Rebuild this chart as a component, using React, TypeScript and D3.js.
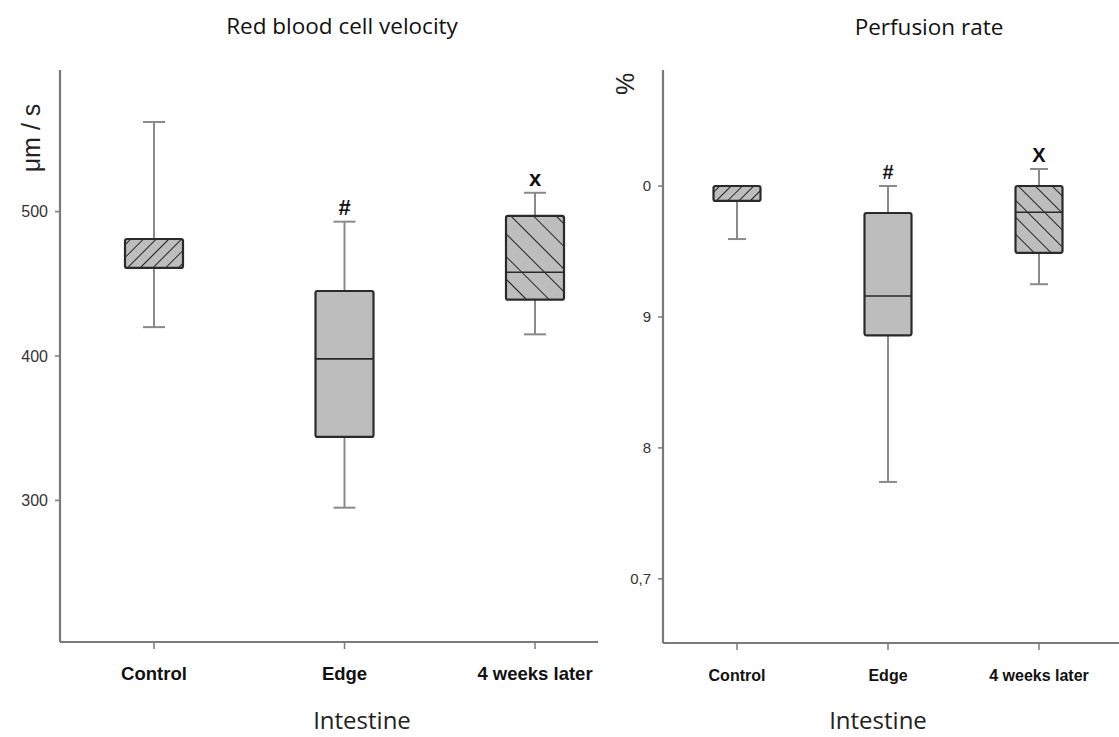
import React from "react";
import * as d3 from "d3";

const categories = ["Control", "Edge", "4 weeks later"];

// Red blood cell velocity (µm/s)
const velLow = [420, 295, 415];
const velQ1 = [461, 344, 439];
const velMedian = [480, 398, 458];
const velQ3 = [481, 445, 497];
const velHigh = [562, 493, 513];
const velMarks = ["", "#", "x"];
const velTicks = [300, 400, 500];
const velTickLabels = ["300", "400", "500"];

// Perfusion rate (%)
const perLow = [0.9595, 0.774, 0.925];
const perQ1 = [0.9886, 0.886, 0.949];
const perMedian = [1.0, 0.916, 0.98];
const perQ3 = [1.0, 0.9794, 1.0];
const perHigh = [1.0, 1.0, 1.013];
const perMarks = ["", "#", "X"];
const perTicks = [0.7, 0.8, 0.9, 1.0];
const perTickLabels = ["0,7", "8", "9", "0"];

// hatch type per category: none, "/", "\"
const hatchKinds = ["fwd", "none", "back"];

type PanelProps = {
  id: string;
  x0: number;
  x1: number;
  yTop: number;
  yBot: number;
  domain: [number, number];
  low: number[];
  q1: number[];
  med: number[];
  q3: number[];
  high: number[];
  marks: string[];
  ticks: number[];
  tickLabels: string[];
  catCenters: [number, number];
  boxW: number;
  capW: number;
  tickFont: React.CSSProperties;
  catFont: React.CSSProperties;
  markSize: number;
  hatchSpacing: [number, number];
  showMedian: boolean[];
};

function Panel(p: PanelProps) {
  const y = d3.scaleLinear().domain(p.domain).range([p.yBot, p.yTop]);
  const x = d3.scalePoint<string>().domain(categories).range(p.catCenters);
  const boxStroke = "#2a2a2a";
  const whisk = "#8a8a8a";
  const axisColor = "#7a7a7a";
  return (
    <g>
      <defs>
        <pattern id={p.id + "fwd"} patternUnits="userSpaceOnUse" width={p.hatchSpacing[0]} height={p.hatchSpacing[0]} patternTransform="rotate(45)">
          <rect width={p.hatchSpacing[0]} height={p.hatchSpacing[0]} fill="#bdbdbd" />
          <line x1={0} y1={0} x2={0} y2={p.hatchSpacing[0]} stroke="#222" strokeWidth={2} />
        </pattern>
        <pattern id={p.id + "back"} patternUnits="userSpaceOnUse" width={p.hatchSpacing[1]} height={p.hatchSpacing[1]} patternTransform="rotate(-45)">
          <rect width={p.hatchSpacing[1]} height={p.hatchSpacing[1]} fill="#bdbdbd" />
          <line x1={0} y1={0} x2={0} y2={p.hatchSpacing[1]} stroke="#222" strokeWidth={2} />
        </pattern>
      </defs>
      {/* axes */}
      <line x1={p.x0} x2={p.x0} y1={p.yTop} y2={p.yBot} stroke={axisColor} strokeWidth={2.2} />
      <line x1={p.x0} x2={p.x1} y1={p.yBot} y2={p.yBot} stroke={axisColor} strokeWidth={2.2} />
      {p.ticks.map((t, i) => (
        <g key={"t" + i}>
          <line x1={p.x0 - 5} x2={p.x0} y1={y(t)} y2={y(t)} stroke={axisColor} strokeWidth={1.5} />
          <text x={p.x0 - 12} y={y(t)} dy="0.35em" textAnchor="end" style={p.tickFont}>
            {p.tickLabels[i]}
          </text>
        </g>
      ))}
      {categories.map((c, i) => (
        <g key={"c" + i}>
          <line x1={x(c)} x2={x(c)} y1={p.yBot} y2={p.yBot + 7} stroke={axisColor} strokeWidth={1.5} />
          <text x={x(c)} y={p.yBot + 38} textAnchor="middle" style={p.catFont}>
            {c}
          </text>
        </g>
      ))}
      {categories.map((c, i) => {
        const cx = x(c) as number;
        const kind = hatchKinds[i];
        const fill = kind === "none" ? "#bdbdbd" : `url(#${p.id + kind})`;
        return (
          <g key={"b" + i}>
            <line x1={cx} x2={cx} y1={y(p.high[i])} y2={y(p.q3[i])} stroke={whisk} strokeWidth={2} />
            <line x1={cx} x2={cx} y1={y(p.q1[i])} y2={y(p.low[i])} stroke={whisk} strokeWidth={2} />
            <line x1={cx - p.capW / 2} x2={cx + p.capW / 2} y1={y(p.high[i])} y2={y(p.high[i])} stroke={whisk} strokeWidth={2} />
            <line x1={cx - p.capW / 2} x2={cx + p.capW / 2} y1={y(p.low[i])} y2={y(p.low[i])} stroke={whisk} strokeWidth={2} />
            <rect
              x={cx - p.boxW / 2}
              y={y(p.q3[i])}
              width={p.boxW}
              height={y(p.q1[i]) - y(p.q3[i])}
              fill={fill}
              stroke={boxStroke}
              strokeWidth={2.2}
              rx={2}
            />
            {p.showMedian[i] && (
              <line x1={cx - p.boxW / 2} x2={cx + p.boxW / 2} y1={y(p.med[i])} y2={y(p.med[i])} stroke={boxStroke} strokeWidth={1.6} />
            )}
            {p.marks[i] && (
              <text
                x={cx}
                y={y(p.high[i]) - 7}
                textAnchor="middle"
                style={{ fontFamily: "Liberation Sans, Arial, sans-serif", fontWeight: "bold", fontSize: p.markSize, fill: "#111" }}
              >
                {p.marks[i]}
              </text>
            )}
          </g>
        );
      })}
    </g>
  );
}

export default function App() {
  const titleStyle: React.CSSProperties = { fontFamily: "Open Sans, Lato, sans-serif", fontSize: 22.5, fill: "#111" };
  const xTitleStyle: React.CSSProperties = { fontFamily: "Open Sans, Lato, sans-serif", fontSize: 24, fill: "#222" };
  // domain derived from tick spacing
  const velDomain: [number, number] = [202, 598];
  const perDomain: [number, number] = [0.651, 1.0886];
  return (
    <svg width={1119} height={737} style={{ position: "absolute", left: 0, top: 0, background: "#fff" }}>
      <rect width={1119} height={737} fill="#fff" />
      <text x={342} y={34} textAnchor="middle" style={titleStyle}>Red blood cell velocity</text>
      <text x={929} y={35} textAnchor="middle" style={titleStyle}>Perfusion rate</text>
      <text transform="translate(40,138) rotate(-90)" textAnchor="middle" style={{ fontFamily: "Liberation Sans, Arial, sans-serif", fontSize: 25, fill: "#222" }}>
        μm / s
      </text>
      <text transform="translate(634,84) rotate(-90)" textAnchor="middle" style={{ fontFamily: "Liberation Sans, Arial, sans-serif", fontSize: 25, fill: "#222" }}>
        %
      </text>
      <Panel
        id="vel"
        x0={60}
        x1={598}
        yTop={70}
        yBot={642}
        domain={velDomain}
        low={velLow}
        q1={velQ1}
        med={velMedian}
        q3={velQ3}
        high={velHigh}
        marks={velMarks}
        ticks={velTicks}
        tickLabels={velTickLabels}
        catCenters={[154, 535]}
        boxW={58}
        capW={22}
        tickFont={{ fontFamily: "Liberation Sans, Arial, sans-serif", fontSize: 16, fill: "#333" }}
        catFont={{ fontFamily: "Liberation Sans, Arial, sans-serif", fontSize: 18.5, fontWeight: "bold", fill: "#111" }}
        markSize={22}
        hatchSpacing={[9, 16]}
        showMedian={[false, true, true]}
      />
      <Panel
        id="per"
        x0={663}
        x1={1119}
        yTop={70}
        yBot={643}
        domain={perDomain}
        low={perLow}
        q1={perQ1}
        med={perMedian}
        q3={perQ3}
        high={perHigh}
        marks={perMarks}
        ticks={perTicks}
        tickLabels={perTickLabels}
        catCenters={[737, 1039]}
        boxW={47}
        capW={18}
        tickFont={{ fontFamily: "Liberation Sans Narrow, Liberation Sans, Arial, sans-serif", fontSize: 15, fill: "#333" }}
        catFont={{ fontFamily: "Liberation Sans Narrow, Liberation Sans, Arial, sans-serif", fontSize: 16, fontWeight: "bold", fill: "#111" }}
        markSize={20}
        hatchSpacing={[8, 12]}
        showMedian={[false, true, true]}
      />
      <text x={362} y={729} textAnchor="middle" style={xTitleStyle}>Intestine</text>
      <text x={878} y={729} textAnchor="middle" style={xTitleStyle}>Intestine</text>
    </svg>
  );
}
